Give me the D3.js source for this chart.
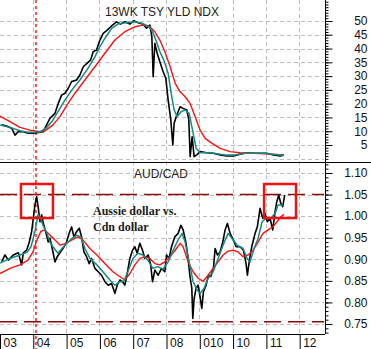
<!DOCTYPE html>
<html><head><meta charset="utf-8">
<script src="https://cdn.jsdelivr.net/npm/d3@7/dist/d3.min.js"></script>
<style>html,body{margin:0;padding:0;background:#fff;overflow:hidden}svg{display:block}</style>
</head><body>
<svg id="chart" width="371" height="349"></svg>
<script>
// ---- categories / ticks ----
const yearTicks = [2003,2004,2005,2006,2007,2008,2009,2010,2011,2012];
const yearLabels = ["03","04","05","06","07","08","010","10","11","12"];
const tsyTicks = [5,10,15,20,25,30,35,40,45,50];
const fxTicks = [0.75,0.80,0.85,0.90,0.95,1.00,1.05,1.10];
const fxLevels = [1.05, 0.755];
const markerYear = 2004.08;

// ---- 13WK TSY YLD NDX (top panel) ----
const tsyX = [2003.05,2003.20,2003.35,2003.45,2003.55,2003.70,2003.85,2004.00,2004.15,2004.30,2004.40,2004.50,2004.65,2004.75,2004.85,2004.95,2005.05,2005.15,2005.30,2005.40,2005.50,2005.62,2005.72,2005.80,2005.90,2005.98,2006.10,2006.22,2006.35,2006.50,2006.62,2006.75,2006.90,2007.02,2007.15,2007.28,2007.40,2007.50,2007.56,2007.60,2007.65,2007.72,2007.80,2007.90,2007.98,2008.05,2008.13,2008.19,2008.23,2008.31,2008.41,2008.50,2008.61,2008.67,2008.71,2008.77,2008.83,2008.91,2009.01,2009.21,2009.41,2009.61,2009.81,2010.01,2010.21,2010.41,2010.61,2010.81,2011.01,2011.21,2011.41,2011.53];
const tsyY = [12.3,11.9,11.1,8.6,9.8,9.8,9.3,9.3,9.6,9.8,12.3,14.7,16.5,20.1,23.1,23.8,25.6,28.0,28.6,30.4,33.4,34.7,35.8,38.9,39.5,42.5,45.5,46.7,48.2,49.7,48.9,49.7,48.9,50.1,49.4,48.9,47.4,48.5,44.3,29.8,41.9,38.3,35.2,31.6,29.2,21.3,14.1,5.0,12.9,15.9,18.9,18.3,17.7,14.1,0.8,8.0,0.8,1.4,2.6,2.2,2.0,1.4,1.0,1.0,1.7,2.2,2.0,2.0,2.0,1.4,1.0,1.3];
const tsyFastX = [2003.00,2003.30,2003.60,2003.90,2004.20,2004.38,2004.56,2004.74,2004.95,2005.16,2005.40,2005.64,2005.85,2006.00,2006.18,2006.36,2006.54,2006.78,2007.05,2007.26,2007.44,2007.56,2007.68,2007.80,2007.92,2008.05,2008.14,2008.23,2008.32,2008.44,2008.56,2008.68,2008.80,2008.89,2009.01,2009.31,2009.76,2010.06,2010.36,2010.96,2011.26,2011.53];
const tsyFastY = [12.3,11.4,10.2,9.5,9.8,11.1,13.5,17.1,21.3,25.0,28.6,32.8,37.0,40.7,44.3,47.4,48.9,49.4,49.7,49.2,48.2,46.7,43.1,38.9,35.8,31.0,23.8,17.7,15.3,17.1,17.7,16.5,9.3,3.8,2.2,2.2,1.4,1.4,2.0,2.0,1.6,1.3];
const tsySlowX = [2003.00,2003.30,2003.60,2003.90,2004.20,2004.38,2004.59,2004.80,2005.01,2005.25,2005.55,2005.85,2006.15,2006.45,2006.75,2007.05,2007.29,2007.50,2007.65,2007.80,2007.95,2008.11,2008.26,2008.41,2008.56,2008.71,2008.86,2009.01,2009.16,2009.37,2009.61,2009.91,2010.21,2010.66,2011.11,2011.53];
const tsySlowY = [15.5,13.5,11.4,10.4,9.8,10.4,12.3,15.3,19.5,23.8,28.6,33.4,38.3,43.1,46.1,47.9,48.5,47.9,46.1,43.1,38.9,33.4,27.4,24.3,22.5,20.1,15.3,10.4,7.4,5.6,3.8,2.6,2.2,2.0,1.7,1.4];

// ---- AUD/CAD (bottom panel) ----
const fxX = [2003.05,2003.15,2003.25,2003.40,2003.55,2003.65,2003.70,2003.80,2003.88,2003.95,2004.00,2004.05,2004.10,2004.15,2004.20,2004.25,2004.30,2004.38,2004.45,2004.50,2004.58,2004.65,2004.72,2004.80,2004.90,2005.00,2005.08,2005.15,2005.22,2005.30,2005.38,2005.45,2005.52,2005.60,2005.68,2005.75,2005.85,2005.95,2006.05,2006.15,2006.25,2006.35,2006.45,2006.52,2006.60,2006.68,2006.75,2006.82,2006.90,2006.98,2007.05,2007.12,2007.20,2007.28,2007.35,2007.45,2007.52,2007.58,2007.65,2007.75,2007.85,2007.95,2008.00,2008.08,2008.15,2008.25,2008.35,2008.43,2008.50,2008.58,2008.65,2008.70,2008.76,2008.79,2008.83,2008.89,2008.95,2009.00,2009.06,2009.11,2009.19,2009.26,2009.33,2009.41,2009.46,2009.53,2009.61,2009.69,2009.76,2009.83,2009.91,2009.99,2010.09,2010.21,2010.31,2010.39,2010.43,2010.49,2010.56,2010.66,2010.73,2010.81,2010.89,2010.96,2011.03,2011.11,2011.19,2011.26,2011.31,2011.37,2011.43,2011.49,2011.55];
const fxY = [0.894,0.910,0.898,0.910,0.915,0.887,0.915,0.921,0.940,0.964,0.995,1.026,1.045,1.019,0.987,1.003,0.984,0.961,0.940,0.949,0.921,0.894,0.906,0.915,0.926,0.940,0.961,0.975,0.952,0.964,0.972,0.952,0.917,0.906,0.890,0.902,0.879,0.871,0.863,0.848,0.840,0.844,0.821,0.840,0.852,0.848,0.840,0.867,0.902,0.921,0.929,0.914,0.937,0.921,0.902,0.910,0.890,0.848,0.875,0.863,0.879,0.871,0.910,0.902,0.929,0.952,0.960,0.979,0.968,0.940,0.902,0.863,0.833,0.763,0.809,0.833,0.840,0.817,0.786,0.825,0.840,0.863,0.860,0.879,0.925,0.910,0.917,0.940,0.968,0.983,0.960,0.948,0.929,0.929,0.921,0.890,0.863,0.898,0.929,0.960,0.976,1.018,0.995,1.006,0.987,0.995,0.968,1.010,1.033,1.049,1.030,1.022,1.049];
const fxFastX = [2003.00,2003.30,2003.60,2003.81,2003.93,2004.05,2004.14,2004.20,2004.29,2004.41,2004.50,2004.59,2004.74,2004.86,2005.01,2005.16,2005.31,2005.43,2005.55,2005.70,2005.91,2006.09,2006.30,2006.45,2006.60,2006.72,2006.84,2006.99,2007.14,2007.29,2007.44,2007.59,2007.74,2007.89,2008.05,2008.20,2008.35,2008.47,2008.56,2008.68,2008.80,2008.92,2009.01,2009.13,2009.25,2009.40,2009.55,2009.70,2009.85,2009.97,2010.12,2010.30,2010.42,2010.51,2010.63,2010.75,2010.87,2010.99,2011.14,2011.26,2011.35,2011.50];
const fxFastY = [0.891,0.902,0.910,0.916,0.929,0.964,1.003,0.999,0.979,0.960,0.940,0.929,0.914,0.925,0.937,0.948,0.956,0.952,0.925,0.902,0.887,0.871,0.852,0.840,0.848,0.849,0.871,0.902,0.914,0.910,0.898,0.879,0.883,0.877,0.894,0.921,0.945,0.960,0.940,0.894,0.848,0.829,0.821,0.833,0.856,0.871,0.902,0.933,0.960,0.948,0.933,0.925,0.902,0.894,0.925,0.948,0.987,0.995,0.996,1.006,1.026,1.026];
const fxSlowX = [2003.00,2003.30,2003.60,2003.84,2003.99,2004.11,2004.23,2004.35,2004.50,2004.65,2004.80,2004.98,2005.16,2005.34,2005.49,2005.70,2005.91,2006.15,2006.39,2006.54,2006.75,2006.90,2007.05,2007.20,2007.35,2007.50,2007.65,2007.80,2007.95,2008.11,2008.26,2008.41,2008.50,2008.65,2008.80,2008.95,2009.10,2009.25,2009.40,2009.55,2009.70,2009.85,2010.00,2010.15,2010.30,2010.45,2010.60,2010.75,2010.90,2011.05,2011.20,2011.32,2011.44,2011.53];
const fxSlowY = [0.867,0.879,0.887,0.898,0.917,0.945,0.965,0.968,0.956,0.945,0.933,0.937,0.945,0.952,0.945,0.925,0.910,0.890,0.871,0.863,0.852,0.867,0.887,0.902,0.906,0.902,0.890,0.887,0.894,0.906,0.921,0.937,0.929,0.894,0.871,0.856,0.849,0.863,0.879,0.894,0.910,0.919,0.921,0.917,0.906,0.910,0.921,0.940,0.960,0.968,0.976,0.987,0.999,1.004];

// ---- annotation boxes (years / AUD-CAD values) ----
const boxX0 = [2003.63, 2010.93];
const boxX1 = [2004.59, 2011.89];
const boxTop = 1.0745, boxBottom = 0.9956;

const svg = d3.select("#chart");
const W = 371, H = 349;
const plotRight = 324, axisX = 325, sepY = 162, botY = 334;

const x = d3.scaleLinear().domain([2003, 2012.73]).range([0, plotRight]);
const yTop = d3.scaleLinear().domain([0, 50]).range([158.8, 21]);
const yBot = d3.scaleLinear().domain([0.75, 1.10]).range([324, 173]);

const grid = "#bdbdbd";
const g = svg.append("g");

// vertical gridlines
g.selectAll(".vg").data(yearTicks.slice(1)).enter().append("line")
  .attr("x1", d => x(d)).attr("x2", d => x(d)).attr("y1", 0).attr("y2", botY)
  .attr("stroke", grid).attr("stroke-width", 1).attr("stroke-dasharray", "4,3")
  .attr("shape-rendering", "crispEdges");
// horizontal gridlines top
g.selectAll(".hgt").data([0].concat(tsyTicks)).enter().append("line")
  .attr("x1", 0).attr("x2", plotRight).attr("y1", d => Math.round(yTop(d)) + 0.5).attr("y2", d => Math.round(yTop(d)) + 0.5)
  .attr("stroke", grid).attr("stroke-dasharray", "4,3");
// horizontal gridlines bottom
g.selectAll(".hgb").data(fxTicks).enter().append("line")
  .attr("x1", 0).attr("x2", plotRight).attr("y1", d => Math.round(yBot(d)) + 0.5).attr("y2", d => Math.round(yBot(d)) + 0.5)
  .attr("stroke", grid).attr("stroke-dasharray", "4,3");

// dark red level lines
g.selectAll(".lvl").data(fxLevels).enter().append("line")
  .attr("x1", 0).attr("x2", plotRight).attr("y1", d => yBot(d)).attr("y2", d => yBot(d))
  .attr("stroke", "#8b0a0a").attr("stroke-width", 1.5).attr("stroke-dasharray", "17,7");

// red dotted marker
g.append("line").attr("x1", x(markerYear)).attr("x2", x(markerYear)).attr("y1", 0).attr("y2", H)
  .attr("stroke", "#ff1a1a").attr("stroke-width", 1.5).attr("stroke-dasharray", "3,3");

function series(xs, ys, ys2, col, w) {
  const pts = xs.map((d, i) => [d, ys[i]]);
  const line = d3.line().x(d => x(d[0])).y(d => ys2(d[1]));
  g.append("path").attr("d", line(pts)).attr("fill", "none").attr("stroke", col)
    .attr("stroke-width", w).attr("stroke-linejoin", "round");
}
series(tsyX, tsyY, yTop, "#000", 1.6);
series(tsySlowX, tsySlowY, yTop, "#ff1010", 1.4);
series(tsyFastX, tsyFastY, yTop, "#138a84", 1.5);
series(fxX, fxY, yBot, "#000", 1.6);
series(fxSlowX, fxSlowY, yBot, "#ff1010", 1.4);
series(fxFastX, fxFastY, yBot, "#138a84", 1.5);

// frame lines
g.append("line").attr("x1", 0).attr("x2", W).attr("y1", sepY + 0.5).attr("y2", sepY + 0.5).attr("stroke", "#000");
g.append("line").attr("x1", 0).attr("x2", axisX).attr("y1", botY + 0.5).attr("y2", botY + 0.5).attr("stroke", "#000");
g.append("line").attr("x1", axisX + 0.5).attr("x2", axisX + 0.5).attr("y1", 0).attr("y2", botY).attr("stroke", "#000");

// right axes: minor ticks
const minorTop = d3.range(0, 58, 1);
const minorBot = d3.range(73, 113, 1).map(v => v / 100);
function rightAxis(scale, majors, minors, fmt) {
  const ag = svg.append("g").attr("transform", `translate(${axisX + 0.5},0)`);
  ag.call(d3.axisRight(scale).tickValues(minors).tickSize(3).tickFormat(""))
    .call(s => s.select(".domain").remove());
  const bg = svg.append("g").attr("transform", `translate(${axisX + 0.5},0)`);
  bg.call(d3.axisRight(scale).tickValues(majors).tickSize(7).tickFormat(fmt))
    .call(s => s.select(".domain").remove());
  bg.selectAll("text").attr("x", 42).attr("text-anchor", "end")
    .attr("font-family", "Liberation Sans, Arial, sans-serif").attr("font-size", 12).attr("fill", "#111");
}
rightAxis(yTop, tsyTicks, minorTop, d3.format("d"));
rightAxis(yBot, fxTicks, minorBot, d3.format(".2f"));

// bottom axis
const xg = svg.append("g").attr("transform", `translate(0,${botY})`);
xg.call(d3.axisBottom(x).tickValues(yearTicks).tickSize(15).tickFormat((d, i) => yearLabels[i]))
  .call(s => s.select(".domain").remove());
xg.selectAll(".tick line").attr("stroke", "#000");
xg.selectAll("text").attr("x", 3).attr("y", 4).attr("text-anchor", "start")
  .attr("font-family", "Liberation Sans, Arial, sans-serif").attr("font-size", 12).attr("fill", "#111");

// titles
svg.append("text").attr("x", 162).attr("y", 15.5).attr("text-anchor", "middle")
  .attr("font-family", "Liberation Sans, Arial, sans-serif").attr("font-size", 12).attr("fill", "#222")
  .text("13WK TSY YLD NDX");
svg.append("text").attr("x", 161).attr("y", 177.5).attr("text-anchor", "middle")
  .attr("font-family", "Liberation Sans, Arial, sans-serif").attr("font-size", 12).attr("fill", "#222")
  .text("AUD/CAD");

// annotation
const ann = svg.append("text").attr("font-family", "Liberation Serif, Times New Roman, serif")
  .attr("font-weight", "bold").attr("font-size", 12).attr("fill", "#1c1c1c");
ann.append("tspan").attr("x", 93).attr("y", 215).text("Aussie dollar vs.");
ann.append("tspan").attr("x", 93).attr("y", 231).text("Cdn dollar");

// red boxes
svg.selectAll(".box").data(boxX0).enter().append("rect")
  .attr("x", (d) => x(d)).attr("width", (d, i) => x(boxX1[i]) - x(d))
  .attr("y", yBot(boxTop)).attr("height", yBot(boxBottom) - yBot(boxTop))
  .attr("fill", "none").attr("stroke", "#ee1111").attr("stroke-width", 2.5);
</script>
</body></html>
